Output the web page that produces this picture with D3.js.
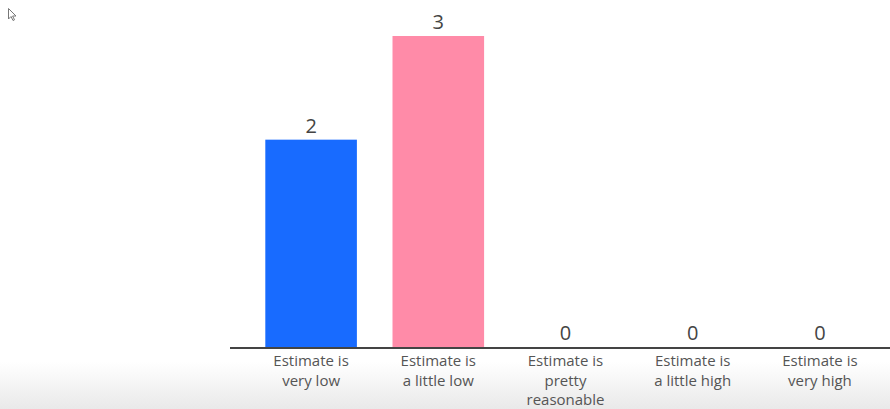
<!DOCTYPE html>
<html>
<head>
<meta charset="utf-8">
<script src="https://cdn.jsdelivr.net/npm/d3@7"></script>
<style>
  html, body { margin: 0; padding: 0; background: #fff; }
  svg { display: block; }
</style>
</head>
<body>
<div id="chart"></div>
<script>
// Response categories (each label broken into display lines)
const categories = [
  ["Estimate is", "very low"],
  ["Estimate is", "a little low"],
  ["Estimate is", "pretty", "reasonable"],
  ["Estimate is", "a little high"],
  ["Estimate is", "very high"]
];
const counts = [2, 3, 0, 0, 0];
const barColors = ["#186bff", "#ff8ba8", "#9aa", "#9aa", "#9aa"];

const width = 890, height = 409;
const baseline = 347;

const svg = d3.select("#chart").append("svg")
  .attr("width", width).attr("height", height);

// soft grey band along the bottom edge
const defs = svg.append("defs");
const grad = defs.append("linearGradient").attr("id", "fade")
  .attr("x1", 0).attr("y1", 0).attr("x2", 0).attr("y2", 1);
grad.append("stop").attr("offset", 0).attr("stop-color", "#ffffff");
grad.append("stop").attr("offset", 1).attr("stop-color", "#e9e9e9");
svg.append("rect").attr("x", 0).attr("y", 362).attr("width", width).attr("height", height - 362)
  .attr("fill", "url(#fade)");

// pointer glyph in the corner
svg.append("path")
  .attr("d", "M8.5,8.5 L8.5,19 L11,16.5 L13,20.5 L14.5,19.8 L12.6,16 L16,16 Z")
  .attr("fill", "#fff").attr("stroke", "#777").attr("stroke-width", 1);

const x = d3.scaleBand()
  .domain(d3.range(categories.length))
  .range([247.5, 883.5])
  .paddingInner(0.28)
  .paddingOuter(0.14);

const y = d3.scaleLinear().domain([0, 3]).range([baseline, 36]);

// bars
svg.append("g").selectAll("rect")
  .data(counts)
  .join("rect")
  .attr("x", (d, i) => x(i))
  .attr("width", x.bandwidth())
  .attr("y", d => y(d))
  .attr("height", d => baseline - y(d))
  .attr("fill", (d, i) => barColors[i]);

// value labels
svg.append("g").selectAll("text")
  .data(counts)
  .join("text")
  .attr("x", (d, i) => x(i) + x.bandwidth() / 2)
  .attr("y", d => y(d) - 7)
  .attr("text-anchor", "middle")
  .attr("font-family", "'Open Sans', sans-serif")
  .attr("font-size", 20)
  .attr("fill", "#444")
  .text(d => d);

// baseline
svg.append("line")
  .attr("x1", 230).attr("x2", width)
  .attr("y1", baseline + 1).attr("y2", baseline + 1)
  .attr("stroke", "#444").attr("stroke-width", 2);

// category labels
const labels = svg.append("g").selectAll("text")
  .data(categories)
  .join("text")
  .attr("text-anchor", "middle")
  .attr("font-family", "'Open Sans', sans-serif")
  .attr("font-size", 15)
  .attr("fill", "#555");
labels.each(function(lines, i) {
  d3.select(this).selectAll("tspan")
    .data(lines)
    .join("tspan")
    .attr("x", x(i) + x.bandwidth() / 2)
    .attr("y", (l, j) => 366 + j * 19.5)
    .text(l => l);
});
</script>
</body>
</html>
